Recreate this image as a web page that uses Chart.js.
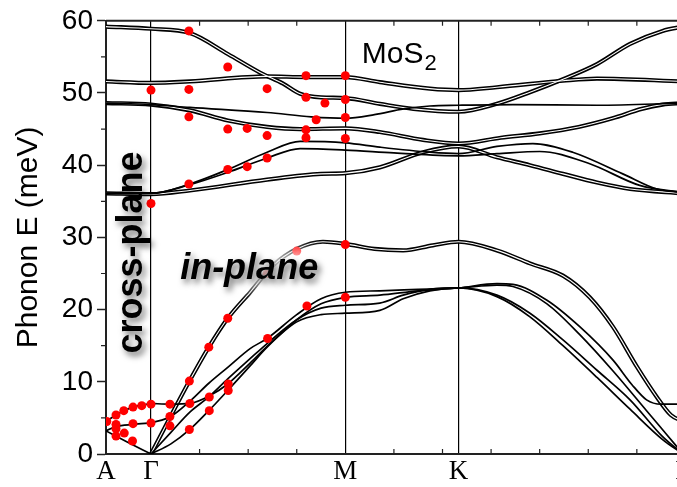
<!DOCTYPE html>
<html>
<head>
<meta charset="utf-8">
<script src="https://cdn.jsdelivr.net/npm/chart.js@4.4.1/dist/chart.umd.min.js"></script>
<style>
  html, body { margin: 0; padding: 0; overflow: hidden; background: #fff; }
</style>
</head>
<body>
<canvas id="chart" width="700" height="487"></canvas>
<script>
// path A - Γ - M - K - Γ, x in units of the small top/bottom ticks
const kPoints = [-0.926, 0, 4, 6.33, 10.95];
const kLabels = ["A", "Γ", "M", "K", "Γ"];
const minorK = [1, 2, 3, 5, 6, 7, 8, 9, 10];
const minorE = [5, 15, 25, 35, 45, 55];

// calculated branches, [k, E (meV)]
const bandTop = [[-0.926,59.2],[0,58.9],[0.8,58.3],[1.58,55.4],[2.25,52.8],[2.72,51.3],[3.07,49.9],[3.5,49.4],[4,49.3],[4.71,48.5],[5.4,47.8],[6.33,47.4],[7.12,48.5],[7.8,50.1],[8.48,51.9],[9.18,54.0],[9.86,56.8],[10.53,58.6],[10.95,59.2]];
const band52 = [[-0.926,51.6],[0,51.4],[0.8,51.6],[2.39,52.3],[3.2,52.2],[4,52.2],[4.71,51.5],[5.74,50.6],[6.33,50.4],[7.12,50.8],[8.48,51.7],[9.18,52.0],[10.95,51.6]];
const band48a = [[-0.926,48.6],[0,48.4],[0.8,48.0],[2.39,47.3],[3.3,46.7],[4,46.5],[4.6,47.0],[5.2,47.8],[5.74,48.2],[6.33,48.3],[7.45,48.4],[9.18,48.3],[10.95,48.6]];
const band48b = [[-0.926,48.6],[0,48.4],[0.8,47.6],[1.58,46.2],[2.39,45.3],[3.07,45.0],[4,45.1],[4.71,44.6],[5.6,43.5],[6.33,43.0],[7.2,43.8],[8.0,44.4],[8.8,45.3],[9.5,46.5],[10.1,47.8],[10.53,48.4],[10.95,48.6]];
const band36 = [[-0.926,36.1],[0,36.0],[0.8,36.5],[2.39,38.0],[3.5,38.8],[4,38.9],[4.71,39.7],[5.6,41.8],[6.33,42.6],[7.12,41.1],[7.8,40.0],[8.48,38.8],[9.18,37.6],[9.86,36.7],[10.95,36.1]];
const band43 = [[-0.926,36.1],[0,36.1],[0.8,37.4],[1.58,39.4],[2.39,41.8],[3.07,43.3],[4,43.1],[4.71,42.5],[5.74,41.8],[6.33,41.6],[7.12,42.6],[7.86,43.0],[8.68,41.8],[9.71,38.8],[10.41,36.7],[10.95,36.2]];
const band42 = [[-0.926,36.1],[0,36.1],[0.8,37.3],[1.58,39.0],[2.39,41.0],[3.07,42.3],[4,42.1],[5,41.7],[6.33,41.3],[7.12,41.6],[8.0,41.9],[9.03,40.2],[10.06,37.2],[10.95,36.2]];
const bandLA = [[0,0],[0.41,5.3],[0.8,10.2],[1.19,14.8],[1.58,18.8],[2.04,22.4],[2.51,26.1],[3.0,28.4],[3.54,29.4],[4,29.1],[4.6,28.4],[5.19,28.2],[5.8,28.9],[6.33,29.4],[7.12,28.2],[7.8,26.4],[8.48,24.7],[9.03,21.7],[9.51,17.6],[10.0,12.1],[10.41,7.9],[10.7,5.4],[10.95,4.5]];
const bandT1 = [[0,7.0],[0.41,6.9],[0.8,7.0],[1.19,8.0],[1.58,9.7],[2.04,12.6],[2.39,14.9],[3.0,18.6],[3.5,20.8],[4,21.7],[4.71,22.0],[5.5,22.6],[6.33,23.0],[7.12,23.6],[7.45,23.5],[8.15,21.3],[8.83,17.6],[9.51,13.0],[9.9,9.6],[10.2,7.5],[10.5,6.9],[10.95,6.9]];
const bandT2 = [[0,4.3],[0.41,5.2],[0.8,7.3],[1.19,9.8],[1.58,12.0],[2.04,14.6],[2.39,16.0],[3.0,19.3],[3.5,21.5],[4,22.4],[4.71,22.6],[5.5,22.8],[6.33,23.0],[7.12,23.4],[7.45,23.2],[8.15,20.8],[8.83,16.5],[9.51,11.5],[10.2,6.0],[10.6,2.8],[10.95,0]];
const bandT3 = [[0,0],[0.41,3.0],[0.8,5.8],[1.19,7.9],[1.58,10.4],[2.04,13.2],[2.39,15.3],[3.0,18.6],[3.5,20.2],[4,20.6],[4.71,20.9],[5.19,22.0],[5.74,22.8],[6.33,23.0],[7.12,22.0],[7.8,19.5],[8.48,15.8],[9.18,11.6],[9.86,7.5],[10.53,2.4],[10.95,0]];
const bandT4 = [[0,0],[0.41,1.4],[0.8,3.4],[1.19,6.0],[1.58,8.8],[2.04,12.2],[2.39,14.8],[3.0,18.3],[3.5,19.3],[4,19.5],[4.71,19.9],[5.19,21.5],[5.74,22.6],[6.33,23.0],[7.12,21.8],[7.8,19.0],[8.48,15.0],[9.18,10.6],[9.86,6.2],[10.53,2.0],[10.95,0]];
const bandAtop = [[-0.926,4.5],[-0.72,5.4],[-0.56,6.0],[-0.37,6.5],[-0.19,6.8],[0,6.95]];
const bandAmid = [[-0.926,3.2],[-0.72,3.8],[-0.37,4.1],[0,4.3]];
const bandAlow = [[-0.926,3.2],[-0.5,1.7],[0,0]];

const pairBands = [bandTop, band52, band48b, band36, bandLA];
const singleBands = [band48a, band43, band42, bandT1, bandT2, bandT3, bandT4, bandAtop, bandAmid, bandAlow];

// measured points (red)
const expPoints = [
  [0,50.4],[0,34.7],[0.78,58.6],[0.78,50.5],[0.78,46.7],[0.78,37.4],
  [1.58,53.6],[1.58,45.0],[1.58,39.4],[1.98,45.1],[1.98,39.8],
  [2.39,50.6],[2.39,44.1],[2.39,41.0],[3.19,52.4],[3.19,49.4],[3.19,44.9],[3.19,43.8],
  [3.40,46.3],[3.58,48.6],[4,52.4],[4,49.1],[4,46.6],[4,43.7],[4,29.0],[4,21.7],
  [-0.91,4.5],[-0.72,5.4],[-0.56,6.0],[-0.37,6.5],[-0.19,6.7],[0,6.9],[0.39,6.9],[0.8,7.0],
  [-0.72,4.1],[-0.72,3.5],[-0.37,4.2],[0,4.3],[-0.72,2.5],[-0.55,2.9],[-0.38,1.8],
  [0.39,5.2],[0.39,3.9],[0.79,10.1],[0.79,3.4],[1.2,7.9],[1.2,6.0],[1.59,9.7],[1.59,8.8],
  [1.19,14.8],[1.58,18.8],[2.40,16.0],[3.21,20.5],[3.0,28.1],[2.39,25.0]
];

const toXY = arr => arr.map(p => ({ x: p[0], y: p[1] }));

const datasets = [];
datasets.push({
  data: toXY(expPoints), showLine: false, pointRadius: 4.5,
  pointBackgroundColor: "#ff0000", pointBorderWidth: 0, order: 0
});
pairBands.forEach(b => {
  datasets.push({ data: toXY(b), showLine: true, borderColor: "#000", borderWidth: 4.2,
    pointRadius: 0, cubicInterpolationMode: "monotone", order: 3 });
  datasets.push({ data: toXY(b), showLine: true, borderColor: "#fff", borderWidth: 1.1,
    pointRadius: 0, cubicInterpolationMode: "monotone", order: 2 });
});
singleBands.forEach(b => {
  datasets.push({ data: toXY(b), showLine: true, borderColor: "#000", borderWidth: 1.7,
    pointRadius: 0, cubicInterpolationMode: "monotone", order: 1 });
});

const decor = {
  id: "decor",
  afterDraw(chart) {
    const ctx = chart.ctx;
    const xs = chart.scales.x, ys = chart.scales.y;
    const { left, right, top, bottom } = chart.chartArea;
    ctx.save();
    // frame top + minor ticks
    ctx.strokeStyle = "#222";
    ctx.lineWidth = 2;
    ctx.beginPath();
    ctx.moveTo(left, top); ctx.lineTo(right, top);
    ctx.stroke();
    ctx.lineWidth = 1.2;
    ctx.beginPath();
    minorK.forEach(k => {
      const px = xs.getPixelForValue(k);
      ctx.moveTo(px, top); ctx.lineTo(px, top + 5);
      ctx.moveTo(px, bottom); ctx.lineTo(px, bottom - 5);
    });
    minorE.forEach(e => {
      const py = ys.getPixelForValue(e);
      ctx.moveTo(left - 5, py); ctx.lineTo(left, py);
    });
    ctx.stroke();

    // MoS2
    ctx.fillStyle = "#000";
    ctx.textBaseline = "alphabetic";
    ctx.textAlign = "left";
    ctx.font = "30px 'Liberation Sans', Arial, sans-serif";
    const mx = xs.getPixelForValue(4.34), my = ys.getPixelForValue(54.2);
    ctx.fillText("MoS", mx, my);
    const w = ctx.measureText("MoS").width;
    ctx.font = "22px 'Liberation Sans', Arial, sans-serif";
    ctx.fillText("2", mx + w + 1, my + 7);

    // in-plane, with a soft white glow that fades what lies behind it
    ctx.font = "italic bold 36px 'Liberation Sans', Arial, sans-serif";
    const ix = xs.getPixelForValue(0.6), iy = ys.getPixelForValue(24.3);
    ctx.shadowColor = "rgba(255,255,255,1)";
    ctx.shadowBlur = 22;
    ctx.fillStyle = "rgba(255,255,255,0.9)";
    for (let i = 0; i < 5; i++) ctx.fillText("in-plane", ix, iy);
    ctx.shadowColor = "rgba(0,0,0,0.55)";
    ctx.shadowBlur = 6; ctx.shadowOffsetX = 3; ctx.shadowOffsetY = 4;
    ctx.fillStyle = "#000";
    ctx.fillText("in-plane", ix, iy);

    // cross-plane
    ctx.translate(xs.getPixelForValue(-0.18), ys.getPixelForValue(27.9));
    ctx.rotate(-Math.PI / 2);
    ctx.textAlign = "center";
    ctx.font = "bold 36px 'Liberation Sans', Arial, sans-serif";
    ctx.fillText("cross-plane", 0, 0);
    ctx.restore();
  }
};

new Chart(document.getElementById("chart"), {
  type: "scatter",
  data: { datasets },
  plugins: [decor],
  options: {
    responsive: false,
    animation: false,
    layout: { padding: { top: 20, right: 17, left: 0, bottom: 0 } },
    plugins: { legend: { display: false }, tooltip: { enabled: false } },
    scales: {
      x: {
        type: "linear",
        min: kPoints[0], max: kPoints[kPoints.length - 1],
        afterBuildTicks: s => { s.ticks = kPoints.map(v => ({ value: v })); },
        afterFit: s => { s.height = 33; },
        ticks: {
          autoSkip: false, maxRotation: 0, padding: 2, color: "#000",
          font: { family: "'Liberation Serif', 'Times New Roman', serif", size: 27 },
          callback: (v, i) => kLabels[i]
        },
        grid: {
          drawTicks: false, lineWidth: 1.2,
          color: c => (c.index > 0 && c.index < kPoints.length - 1) ? "#000" : "rgba(0,0,0,0)"
        },
        border: { display: true, color: "#222", width: 2 }
      },
      y: {
        min: 0, max: 60,
        afterFit: s => { s.width = 106; },
        ticks: {
          stepSize: 10, padding: 4, color: "#000",
          font: { family: "'Liberation Sans', Arial, sans-serif", size: 28 }
        },
        grid: { drawOnChartArea: false, tickLength: 9, tickColor: "#222", tickWidth: 1.5 },
        border: { display: true, color: "#222", width: 2 },
        title: {
          display: true, text: "Phonon E (meV)", color: "#000",
          font: { family: "'Liberation Sans', Arial, sans-serif", size: 30 },
          padding: { top: 11, bottom: 0 }
        }
      }
    }
  }
});
</script>
</body>
</html>
